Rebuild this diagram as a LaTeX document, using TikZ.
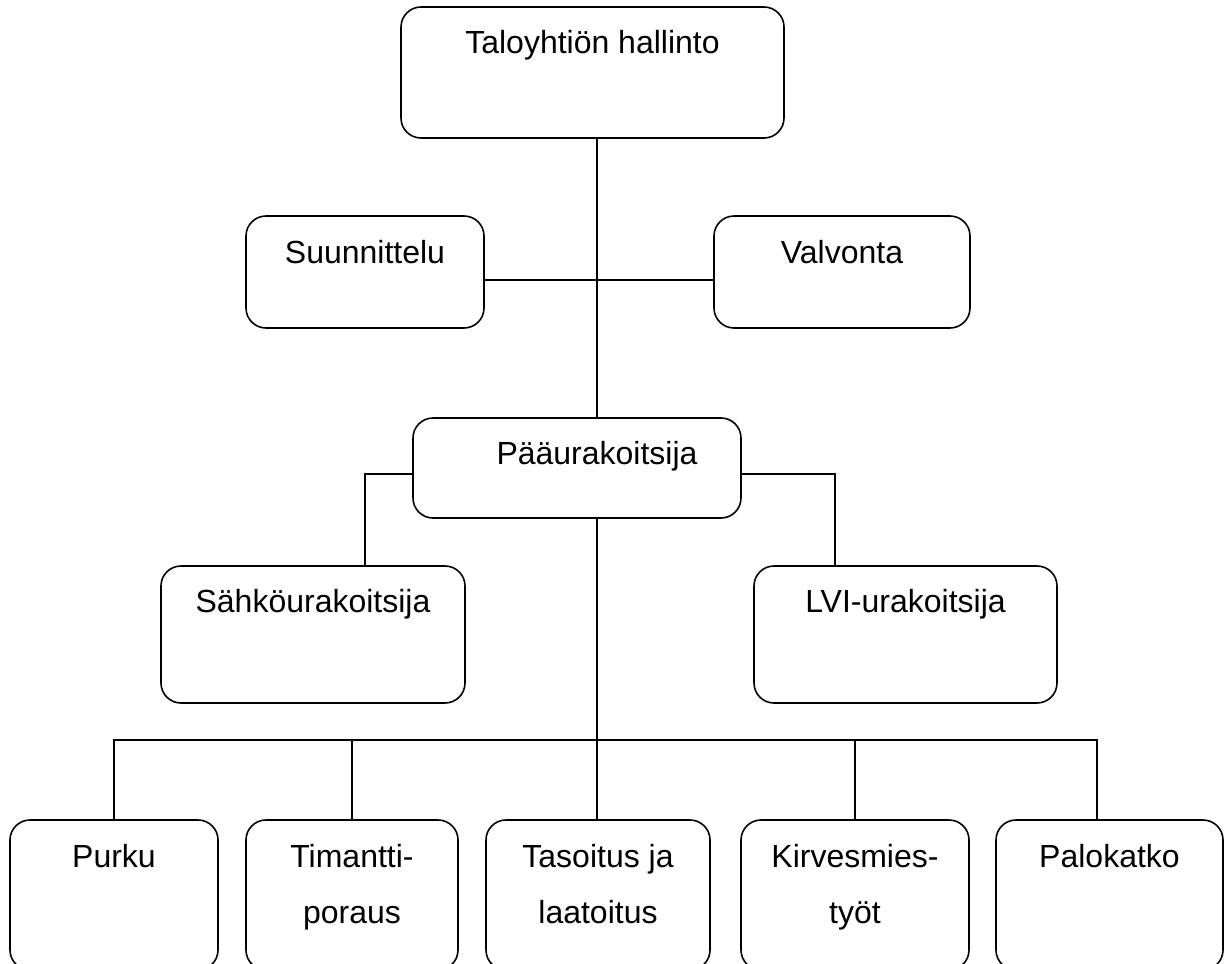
\documentclass[tikz,border=0pt]{standalone}
\usepackage{fontspec}
\setmainfont{Liberation Sans}
\newcommand\lbfont{\fontsize{32}{56}\selectfont}
\tikzset{
  box/.style={draw, line width=1.6pt, rounded corners=20pt, inner sep=0pt},
  lbl/.style={font=\lbfont, anchor=base, inner sep=0pt},
  conn/.style={line width=1.6pt},
}
\begin{document}
\begin{tikzpicture}[x=1pt,y=-1pt]
\useasboundingbox (0,0) rectangle (1232,964);
% boxes
\node[box, minimum width=383pt, minimum height=131pt] (top) at (592.5,72.5) {};
\node[box, minimum width=238pt, minimum height=112pt] (suun) at (365,272) {};
\node[box, minimum width=256pt, minimum height=112pt] (valv) at (842,272) {};
\node[box, minimum width=328pt, minimum height=100pt] (paa) at (577,468) {};
\node[box, minimum width=304pt, minimum height=137pt] (sahko) at (313,634.5) {};
\node[box, minimum width=303pt, minimum height=137pt] (lvi) at (905.5,634.5) {};
\node[box, minimum width=208pt, minimum height=150pt] (purku) at (114,895) {};
\node[box, minimum width=212pt, minimum height=150pt] (tim) at (352,895) {};
\node[box, minimum width=224pt, minimum height=150pt] (tas) at (598,895) {};
\node[box, minimum width=228pt, minimum height=150pt] (kir) at (855,895) {};
\node[box, minimum width=227pt, minimum height=150pt] (palo) at (1109.5,895) {};
% labels
\node[lbl] (ttop) at ([yshift=-47pt]top.north) {Taloyhtiön hallinto};
\node[lbl] (tsuun) at ([yshift=-48pt]suun.north) {Suunnittelu};
\node[lbl] (tvalv) at ([yshift=-48pt]valv.north) {Valvonta};
\node[lbl] (tpaa) at (597,464) {Pääurakoitsija};
\node[lbl] (tsahko) at ([yshift=-47pt]sahko.north) {Sähköurakoitsija};
\node[lbl] (tlvi) at ([yshift=-47pt]lvi.north) {LVI-urakoitsija};
\node[lbl] (tpurku) at ([yshift=-48pt]purku.north) {Purku};
\node[lbl] (ttim) at ([yshift=-48pt]tim.north) {\begin{tabular}[t]{@{}c@{}}Timantti-\\poraus\end{tabular}};
\node[lbl] (ttas) at ([yshift=-48pt]tas.north) {\begin{tabular}[t]{@{}c@{}}Tasoitus ja\\laatoitus\end{tabular}};
\node[lbl] (tkir) at ([yshift=-48pt]kir.north) {\begin{tabular}[t]{@{}c@{}}Kirvesmies-\\työt\end{tabular}};
\node[lbl] (tpalo) at ([yshift=-48pt]palo.north) {Palokatko};
% helper coordinates
\coordinate (trunk) at (597,0);
\coordinate (hbar) at (0,280);
\coordinate (sbr) at (365,474);
\coordinate (lbr) at (835,474);
\coordinate (bus) at (0,740);
\coordinate (d5) at (1097,740);
% connectors
\draw[conn] (top.south -| trunk) -- (paa.north -| trunk);
\draw[conn] (suun.east |- hbar) -- (valv.west |- hbar);
\draw[conn] (paa.west |- sbr) -| (sahko.north -| sbr);
\draw[conn] (paa.east |- lbr) -| (lvi.north -| lbr);
\draw[conn] (paa.south -| trunk) -- (tas.north -| trunk);
\draw[conn] (purku.north) |- (d5) -- (palo.north -| d5);
\draw[conn] (tim.north) -- (tim.north |- bus);
\draw[conn] (kir.north) -- (kir.north |- bus);
\end{tikzpicture}
\end{document}
